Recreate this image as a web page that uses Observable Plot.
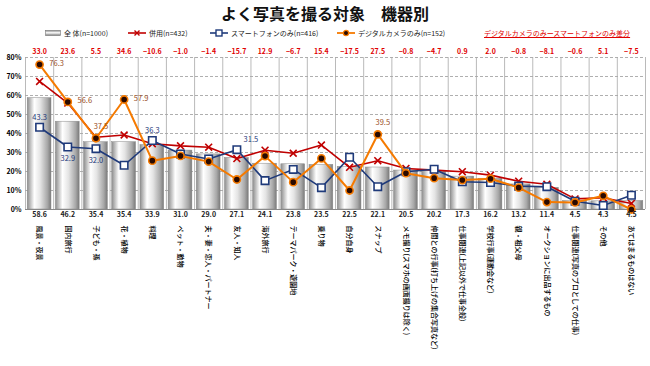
<!DOCTYPE html>
<html><head><meta charset="utf-8">
<script src="https://cdn.jsdelivr.net/npm/d3@7"></script>
<script src="https://cdn.jsdelivr.net/npm/@observablehq/plot@0.6"></script>
<style>
body{margin:0;background:#fff;font-family:"Noto Sans CJK JP","Noto Sans",sans-serif;}
#wrap{position:relative;width:650px;height:366px;overflow:hidden;}
#title{position:absolute;top:1px;left:0;width:650px;text-align:center;font-size:16px;font-weight:bold;color:#111;}
.leg{position:absolute;top:27px;font-size:7px;line-height:12px;color:#222;white-space:nowrap;display:flex;align-items:center;}
.leg svg{margin-right:3px;}
#chart{position:absolute;top:40px;left:0;}
</style></head>
<body>
<div id="wrap">
  <div id="title">よく写真を撮る対象　機器別</div>
  <div class="leg" style="left:45px"><svg width="16" height="6"><defs><linearGradient id="lg0" x1="0" x2="0" y1="0" y2="1"><stop offset="0" stop-color="#888"/><stop offset="0.45" stop-color="#fff"/><stop offset="1" stop-color="#777"/></linearGradient></defs><rect x="0.5" y="0.5" width="15" height="5" fill="url(#lg0)" stroke="#777" stroke-width="0.6"/></svg>全 体(n=1000)</div>
  <div class="leg" style="left:128px"><svg width="18" height="8"><line x1="0" x2="18" y1="4" y2="4" stroke="#C00000" stroke-width="1.6"/><path d="M6.5,1.5L11.5,6.5M11.5,1.5L6.5,6.5" stroke="#C00000" stroke-width="1.4"/></svg>併用(n=432)</div>
  <div class="leg" style="left:210px"><svg width="18" height="8"><line x1="0" x2="18" y1="4" y2="4" stroke="#1F3A7A" stroke-width="1.6"/><rect x="6" y="1" width="6" height="6" fill="#fff" stroke="#1F3A7A" stroke-width="1.4"/></svg>スマートフォンのみ(n=416)</div>
  <div class="leg" style="left:337px"><svg width="18" height="8"><line x1="0" x2="18" y1="4" y2="4" stroke="#F57A00" stroke-width="1.8"/><circle cx="9" cy="4" r="2.6" fill="#2a0a00" stroke="#F57A00" stroke-width="1.2"/></svg>デジタルカメラのみ(n=152)</div>
  <div class="leg" style="left:484px;color:#E00000;text-decoration:underline;">デジタルカメラのみースマートフォンのみ差分</div>
  <div id="chart"></div>
</div>
<script>
const categories = [
  "風景・夜景","国内旅行","子ども・孫","花・植物","料理","ペット・動物",
  "夫・妻・恋人・パートナー","友人・知人","海外旅行","テーマパーク・遊園地","乗り物",
  "自分自身","スナップ","メモ撮り(スマホの画面撮りは除く)","仲間との行事(打ち上げの集合写真など)",
  "仕事関連(上記以外で仕事全般)","学校行事(運動会など)","親・祖父母","オークションに出品するもの",
  "仕事関連(写真のプロとしての仕事)","その他","あてはまるものはない"
];
const totals  = [58.6,46.2,35.4,35.4,33.9,31.0,29.0,27.1,24.1,23.8,23.5,22.5,22.1,20.5,20.2,17.3,16.2,13.2,11.4,4.5,4.3,4.5];
const both    = [67.4,56.0,38.0,39.2,34.6,33.5,32.8,26.8,31.2,29.6,33.9,22.2,25.7,21.6,20.7,19.9,18.1,14.9,13.3,5.6,6.2,3.2];
const smart   = [43.3,32.9,32.0,23.3,36.3,29.2,26.6,31.5,15.2,21.1,11.5,27.5,12.0,19.9,21.2,14.6,14.2,12.3,12.0,4.3,2.1,7.5];
const digital = [76.3,56.6,37.5,57.9,25.7,28.2,25.2,15.8,28.1,14.4,26.9,10.0,39.5,19.1,16.5,15.5,16.2,11.5,3.9,3.7,7.2,0.0];
const diffs   = [33.0,23.6,5.5,34.6,-10.6,-1.0,-1.4,-15.7,12.9,-6.7,15.4,-17.5,27.5,-0.8,-4.7,0.9,2.0,-0.8,-8.1,-0.6,5.1,-7.5];
const yTicks  = [0,10,20,30,40,50,60,70,80];
const smartLabelsAbove = [0,4];
const smartLabelsBelow = [1,2];
const smartLabelsRight = [7];
const digitalLabelsRight = [0,1,3];
const digitalLabelsAbove = [2,12];

const data = categories.map((c,i)=>({i, c, total: totals[i], both: both[i], smart: smart[i], digital: digital[i], diff: diffs[i]}));
const cx = d => d.i + 0.5;
const n = categories.length;
const fmt = v => (v < 0 ? "\u2212" + Math.abs(v).toFixed(1) : v.toFixed(1));
const NAVY = "#1F3A7A", RED = "#C00000", ORANGE = "#F57A00", BROWN = "#9A4E1E";
const pick = idx => data.filter(d => idx.includes(d.i));

const plot = Plot.plot({
  width: 650, height: 326,
  marginLeft: 25, marginRight: 5, marginTop: 17, marginBottom: 157,
  style: {fontFamily: '"Noto Sans CJK JP","Noto Sans",sans-serif', background: "#fff"},
  x: {type: "linear", domain: [0, n]},
  y: {domain: [0, 80]},
  marks: [
    Plot.ruleY(yTicks.filter(t => t > 0), {stroke: "#9a9a9a", strokeWidth: 0.8, strokeDasharray: "3,2"}),
    Plot.ruleX(d3.range(0, n + 1), {stroke: "#a8a8a8", strokeWidth: 0.8}),
    Plot.ruleY([0], {stroke: "#888", strokeWidth: 1}),
    Plot.rect(data, {x1: d => d.i, x2: d => d.i + 1, y1: 0, y2: "total", insetLeft: 2.2, insetRight: 2.2, fill: "url(#barGrad)", stroke: "#8a8a8a", strokeWidth: 0.5}),
    Plot.line(data, {x: cx, y: "both", stroke: RED, strokeWidth: 1.6}),
    Plot.dot(data, {x: cx, y: "both", symbol: "times", r: 3.2, stroke: RED, strokeWidth: 1.6}),
    Plot.line(data, {x: cx, y: "smart", stroke: NAVY, strokeWidth: 1.6}),
    Plot.dot(data, {x: cx, y: "smart", symbol: "square", r: 4.2, fill: "#fff", stroke: NAVY, strokeWidth: 1.6}),
    Plot.line(data, {x: cx, y: "digital", stroke: ORANGE, strokeWidth: 2}),
    Plot.dot(data, {x: cx, y: "digital", r: 3.6, fill: "#2a0a00", stroke: ORANGE, strokeWidth: 1.6}),
    Plot.text(pick(smartLabelsAbove), {x: cx, y: "smart", text: d => fmt(d.smart), dy: -10, fill: NAVY, fontSize: 7.5, ariaLabel: "ulabel"}),
    Plot.text(pick(smartLabelsBelow), {x: cx, y: "smart", text: d => fmt(d.smart), dy: 12, fill: NAVY, fontSize: 7.5, ariaLabel: "ulabel"}),
    Plot.text(pick(smartLabelsRight), {x: cx, y: "smart", text: d => fmt(d.smart), dx: 14, dy: -10, fill: NAVY, fontSize: 7.5, ariaLabel: "ulabel"}),
    Plot.text(pick(digitalLabelsRight), {x: cx, y: "digital", text: d => fmt(d.digital), dx: 17, dy: -1, fill: BROWN, fontSize: 7.5, ariaLabel: "ulabel"}),
    Plot.text(pick(digitalLabelsAbove), {x: cx, y: "digital", text: d => fmt(d.digital), dx: 5, dy: -12, fill: BROWN, fontSize: 7.5, ariaLabel: "ulabel"}),
    Plot.text(data, {x: cx, text: d => fmt(d.total), frameAnchor: "bottom", dy: 7, fontSize: 7, fontWeight: "bold", fill: "#222"}),
    Plot.text(data, {x: cx, text: d => fmt(d.diff), frameAnchor: "top", dy: -8, fontSize: 7, fontWeight: "bold", fill: "#E00000", ariaLabel: "ulabel"}),
    Plot.axisY(yTicks, {tickFormat: d => d + "%", tickSize: 0, tickPadding: 4, fontSize: 7, fontWeight: "bold", label: null}),
    Plot.axisX(d3.range(n).map(i => i + 0.5), {tickFormat: v => categories[Math.floor(v)], tickRotate: 90, tickSize: 0, tickPadding: 16, fontSize: 7, fill: "#000", fontWeight: 500, label: null})
  ]
});

d3.select(plot).insert("defs", ":first-child").html(
  '<linearGradient id="barGrad" x1="0" x2="1" y1="0" y2="0">' +
  '<stop offset="0" stop-color="#8c8c8c"/><stop offset="0.3" stop-color="#ffffff"/>' +
  '<stop offset="0.55" stop-color="#e4e4e4"/><stop offset="0.85" stop-color="#a8a8a8"/>' +
  '<stop offset="1" stop-color="#7a7a7a"/></linearGradient>');
d3.select(plot).selectAll('g[aria-label="ulabel"] text').attr("text-decoration", "underline");
document.getElementById("chart").appendChild(plot);
</script>
</body></html>
